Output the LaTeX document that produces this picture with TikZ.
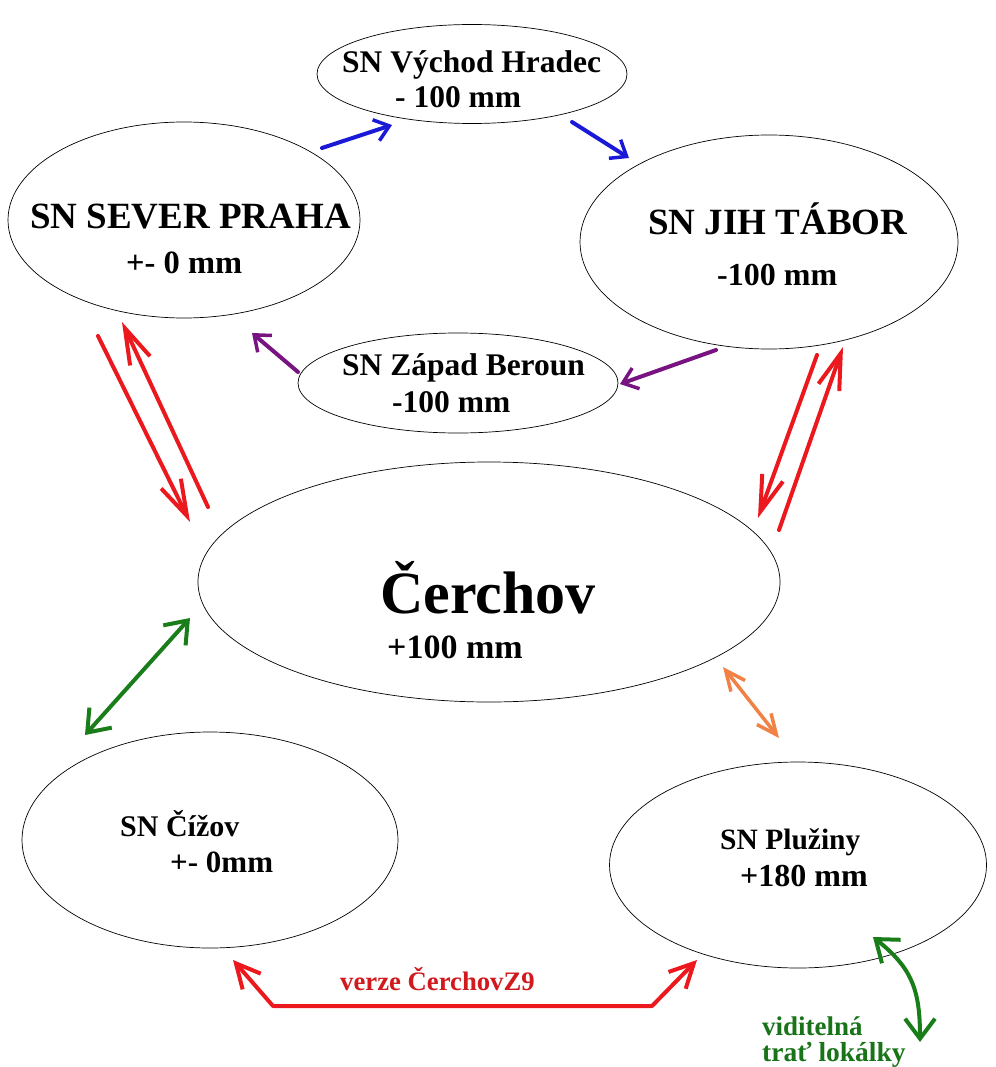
\documentclass[tikz,border=0pt]{standalone}
\usepackage{fontspec}
\setmainfont{Liberation Serif}
\usetikzlibrary{shapes.geometric,arrows.meta}
\definecolor{cred}{RGB}{235,25,30}
\definecolor{cblue}{RGB}{25,25,215}
\definecolor{cpurp}{RGB}{120,20,130}
\definecolor{cgreen}{RGB}{25,125,25}
\definecolor{corange}{RGB}{240,130,70}
\definecolor{tred}{RGB}{210,25,30}
\definecolor{tgreen}{RGB}{25,115,25}
\begin{document}
\begin{tikzpicture}[x=1pt,y=-1pt,
  ell/.style={draw=black,ellipse,line width=0.7pt,inner sep=0pt},
  lbl/.style={anchor=base west,inner sep=0pt,font=\bfseries\fontsize{#1}{#1}\selectfont},
  conn/.style={line width=4pt,line cap=round,line join=round},
  bluearr/.style={conn,color=cblue,-{Straight Barb[length=14pt,width=22pt,line width=3.5pt]}},
  purparr/.style={conn,color=cpurp,-{Straight Barb[length=14pt,width=22pt,line width=3.5pt]}},
  redarr/.style={conn,color=cred,-{Straight Barb[length=36pt,width=22pt,line width=4pt]}},
  greenarr/.style={conn,color=cgreen,{Straight Barb[length=20pt,width=30pt,line width=4pt]}-{Straight Barb[length=20pt,width=30pt,line width=4pt]}},
  orarr/.style={conn,line width=3.5pt,color=corange,{Straight Barb[length=20pt,width=18pt,line width=3.5pt]}-{Straight Barb[length=20pt,width=18pt,line width=3.5pt]}},
  botarr/.style={conn,color=cred,{Straight Barb[length=24pt,width=24pt,line width=4pt]}-{Straight Barb[length=24pt,width=24pt,line width=4pt]}},
]
\useasboundingbox[fill=white] (0,0) rectangle (995,1067);

% ellipses
\node[ell,minimum width=310pt,minimum height=99pt] (vych) at (472,74) {};
\node[ell,minimum width=352pt,minimum height=196pt] (sever) at (184,220) {};
\node[ell,minimum width=378pt,minimum height=214pt] (jih) at (769,242) {};
\node[ell,minimum width=320pt,minimum height=100pt] (zapad) at (458,383) {};
\node[ell,minimum width=582pt,minimum height=240pt] (cerch) at (489,582) {};
\node[ell,minimum width=376pt,minimum height=216pt] (cizov) at (210,840) {};
\node[ell,minimum width=377pt,minimum height=206pt] (pluz) at (798,865) {};

% texts
\node[lbl=31.5] (t1) at (342,73) {SN Východ Hradec};
\node[lbl=31.5] (t1b) at (395,108) {- 100 mm};
\node[lbl=37] (t2) at (30,229) {SN SEVER PRAHA};
\node[lbl=32.5] (t2b) at (126,273) {+- 0 mm};
\node[lbl=37] (t3) at (648,235) {SN JIH TÁBOR};
\node[lbl=32] (t3b) at (717,285) {-100 mm};
\node[lbl=31.5] (t4) at (342,375) {SN Západ Beroun};
\node[lbl=31.5] (t4b) at (392,412) {-100 mm};
\node[lbl=60] (t5) at (380,613) {Čerchov};
\node[lbl=34] (t5b) at (387,658) {+100 mm};
\node[lbl=30] (t6) at (120,836) {SN Čížov};
\node[lbl=31] (t6b) at (170,872) {+- 0mm};
\node[lbl=29.5] (t7) at (720,849) {SN Plužiny};
\node[lbl=32] (t7b) at (740,886) {+180 mm};
\node[lbl=26.7,text=tred] (t8) at (340,990) {verze ČerchovZ9};
\node[lbl=27,text=tgreen] (t9) at (762,1035) {viditelná};
\node[lbl=27.5,text=tgreen] (t9b) at (762,1061) {trať lokálky};

% connector end points
\coordinate (b1s) at (322,148); \coordinate (b1e) at (392,125);
\coordinate (b2s) at (572,122); \coordinate (b2e) at (629,158);
\coordinate (p1s) at (298,372); \coordinate (p1e) at (252,333);
\coordinate (p2s) at (716,350); \coordinate (p2e) at (620,384);
\coordinate (rl1s) at (98,336); \coordinate (rl1e) at (190,522);
\coordinate (rl2s) at (208,507); \coordinate (rl2e) at (122,322);
\coordinate (rr1s) at (817,355); \coordinate (rr1e) at (758,518);
\coordinate (rr2s) at (779,530); \coordinate (rr2e) at (843,347);
\coordinate (gs) at (85,735); \coordinate (ge) at (190,618);
\coordinate (os) at (723,667); \coordinate (oe) at (779,738);
\coordinate (bs) at (233,960); \coordinate (bc1) at (273,1006);
\coordinate (bc2) at (652,1006); \coordinate (be) at (697,960);
\coordinate (cs) at (873,937); \coordinate (ce) at (920,1042);

% connectors
\draw[bluearr] (b1s) -- (b1e);
\draw[bluearr] (b2s) -- (b2e);
\draw[purparr] (p1s) -- (p1e);
\draw[purparr] (p2s) -- (p2e);
\draw[redarr] (rl1s) -- (rl1e);
\draw[redarr] (rl2s) -- (rl2e);
\draw[redarr] (rr1s) -- (rr1e);
\draw[redarr] (rr2s) -- (rr2e);
\draw[greenarr] (gs) -- (ge);
\draw[orarr] (os) -- (oe);
\draw[botarr] (bs) -- (bc1) -- (bc2) -- (be);
\draw[greenarr] (cs) .. controls (912,968) and (920,990) .. (ce);
\end{tikzpicture}
\end{document}
